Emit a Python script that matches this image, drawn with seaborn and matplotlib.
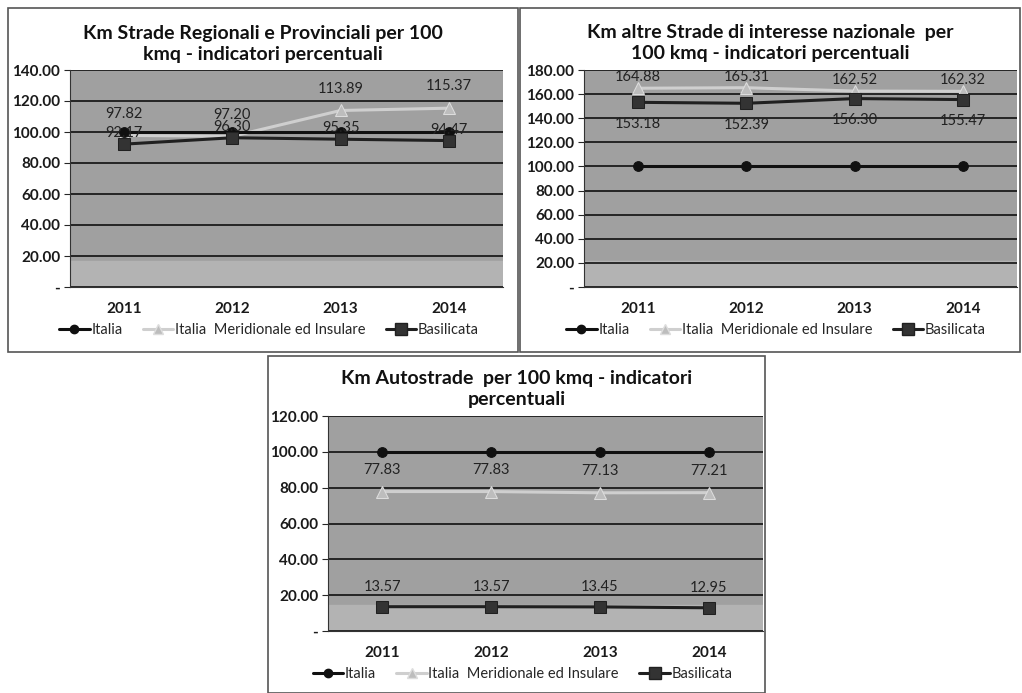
import matplotlib
matplotlib.use("Agg")
import matplotlib.pyplot as plt
import seaborn as sns
import pandas as pd
import numpy as np
from matplotlib.patches import Rectangle
from matplotlib.lines import Line2D
from matplotlib.ticker import FuncFormatter

sns.set_style("white")
plt.rcParams['font.family'] = ['Lato', 'DejaVu Sans']

years = ["2011", "2012", "2013", "2014"]
series_names = ["Italia", "Italia  Meridionale ed Insulare", "Basilicata"]

# Chart 1: Strade Regionali e Provinciali
reg_italia = [100.0, 100.0, 100.0, 100.0]
reg_merid = [97.82, 97.20, 113.89, 115.37]
reg_basil = [92.17, 96.30, 95.35, 94.47]

# Chart 2: altre Strade di interesse nazionale
naz_italia = [100.0, 100.0, 100.0, 100.0]
naz_merid = [164.88, 165.31, 162.52, 162.32]
naz_basil = [153.18, 152.39, 156.30, 155.47]

# Chart 3: Autostrade
aut_italia = [100.0, 100.0, 100.0, 100.0]
aut_merid = [77.83, 77.83, 77.13, 77.21]
aut_basil = [13.57, 13.57, 13.45, 12.95]

titles = [
    "Km Strade Regionali e Provinciali per 100\nkmq - indicatori percentuali",
    "Km altre Strade di interesse nazionale  per\n100 kmq - indicatori percentuali",
    "Km Autostrade  per 100 kmq - indicatori\npercentuali",
]

fig = plt.figure(figsize=(10.22, 6.93), dpi=100)
W, H = 1022, 693

def px_axes(x0, y0, x1, y1):
    return fig.add_axes([x0 / W, 1 - y1 / H, (x1 - x0) / W, (y1 - y0) / H])

styles = {
    "Italia": dict(color="#101010", marker="o", ms=7, lw=2.2, mfc="#101010", mec="#101010"),
    "Italia  Meridionale ed Insulare": dict(color="#cfcfcf", marker="^", ms=8, lw=2.2, mfc="#bdbdbd", mec="#dddddd"),
    "Basilicata": dict(color="#202020", marker="s", ms=9, lw=2.2, mfc="#333333", mec="#202020"),
}

def draw_chart(box, axbox, title, title_y, ymax, italia, merid, basil, merid_off, basil_off, legend_y):
    bx0, by0, bx1, by1 = box
    fig.patches.append(Rectangle((bx0 / W, 1 - by1 / H), (bx1 - bx0) / W, (by1 - by0) / H,
                                 transform=fig.transFigure, fill=False, ec="#555555", lw=1.2))
    ax = px_axes(*axbox)
    ax.set_facecolor("#a0a0a0")
    ax.axhspan(0, ymax * 0.12, color="#b3b3b3", zorder=0)
    df = pd.DataFrame({
        "year": years * 3,
        "value": italia + merid + basil,
        "series": [series_names[0]] * 4 + [series_names[1]] * 4 + [series_names[2]] * 4,
    })
    for name in series_names:
        st = styles[name]
        sub = df[df["series"] == name]
        sns.lineplot(data=sub, x="year", y="value", ax=ax, color=st["color"], lw=st["lw"],
                     marker=st["marker"], markersize=st["ms"], markerfacecolor=st["mfc"],
                     markeredgecolor=st["mec"], zorder=3 if name != series_names[1] else 2,
                     legend=False)
    for i, y in enumerate(merid):
        ax.text(i, y + merid_off, f"{y:.2f}", ha="center", va="center", fontsize=10.5, color="#222222")
    for i, y in enumerate(basil):
        ax.text(i, y + basil_off, f"{y:.2f}", ha="center", va="center", fontsize=10.5, color="#222222")
    ax.set_xlim(-0.5, 3.5)
    ax.set_ylim(0, ymax)
    ax.set_yticks(np.arange(0, ymax + 1, 20))
    ax.yaxis.set_major_formatter(FuncFormatter(lambda v, p: "-" if v == 0 else f"{v:.2f}"))
    ax.grid(axis="y", color="#111111", lw=1.2)
    ax.grid(axis="x", visible=False)
    ax.set_axisbelow(True)
    ax.set_xlabel("")
    ax.set_ylabel("")
    ax.set_xticks(range(4))
    ax.set_xticklabels(years)
    ax.set_xticks([-0.5, 0.5, 1.5, 2.5, 3.5], minor=True)
    ax.tick_params(axis="x", which="major", length=0, pad=11, labelsize=11)
    ax.tick_params(axis="x", which="minor", length=4, direction="out", width=1)
    ax.tick_params(axis="y", length=4, direction="out", labelsize=11, pad=3, left=True)
    for lab in ax.get_xticklabels() + ax.get_yticklabels():
        lab.set_fontweight("bold")
        lab.set_color("#1a1a1a")
    for s in ["top", "right"]:
        ax.spines[s].set_visible(False)
    ax.spines["left"].set_color("#333333")
    ax.spines["bottom"].set_color("#333333")
    cx = (bx0 + bx1) / 2
    fig.text(cx / W, 1 - title_y / H, title, ha="center", va="center", fontsize=14,
             fontweight="bold", linespacing=1.25, color="#111111")
    handles = []
    for name in series_names:
        st = styles[name]
        handles.append(Line2D([], [], color=st["color"], lw=st["lw"], marker=st["marker"],
                              markersize=st["ms"] - 1, markerfacecolor=st["mfc"], markeredgecolor=st["mec"]))
    ax0, _, ax1, _ = axbox
    lx = (cx + 6 - ax0) / (ax1 - ax0)
    ax.legend(handles, series_names, loc="center", bbox_to_anchor=(lx, legend_y), ncol=3,
              frameon=False, fontsize=10.5, handlelength=2.1, handletextpad=0.1, columnspacing=1.4)
    return ax

draw_chart((8, 8, 518, 352), (70, 70, 503, 287), titles[0], 44, 140,
           reg_italia, reg_merid, reg_basil, 14, 7, -0.2)
draw_chart((520, 8, 1020, 352), (584, 70, 1017, 287), titles[1], 43, 180,
           naz_italia, naz_merid, naz_basil, 9, -18, -0.2)
draw_chart((268, 356, 765, 693), (328, 416, 763, 631), titles[2], 389, 120,
           aut_italia, aut_merid, aut_basil, 12, 11, -0.2)

fig.savefig("out.png", dpi=100, facecolor="white")
